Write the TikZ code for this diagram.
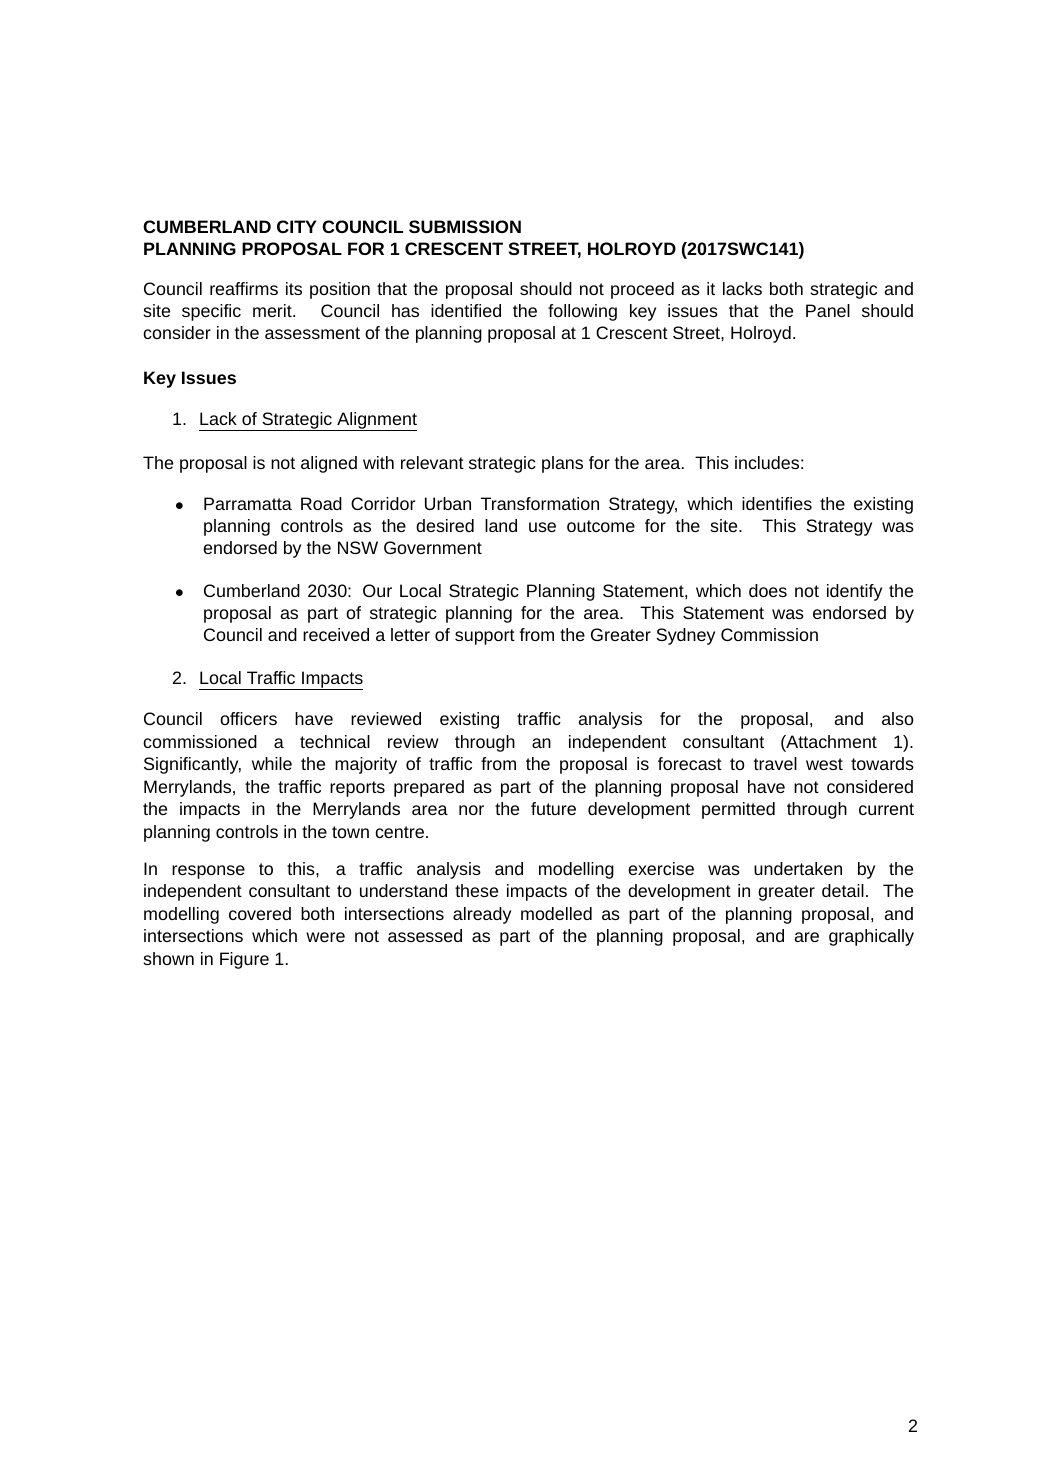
\documentclass[tikz,border=0pt]{standalone}
\usepackage{fontspec}
\setmainfont{Liberation Sans}
\newcounter{ln}
\newcommand{\JL}[4]{\stepcounter{ln}\node[txt] (j\theln) at (#1,-#2) {\makebox[#3pt][s]{#4}};}
\newcommand{\LL}[3]{\stepcounter{ln}\node[txt] (l\theln) at (#1,-#2) {#3};}
\begin{document}
\begin{tikzpicture}[x=1pt,y=1pt,txt/.style={anchor=base west,inner sep=0pt,font=\fontsize{17.9}{20}\selectfont}]
\useasboundingbox[fill=white] (0,0) rectangle (1041,-1484);
\LL{143}{233}{\textbf{CUMBERLAND CITY COUNCIL SUBMISSION}}
\LL{143}{255}{\textbf{PLANNING PROPOSAL FOR 1 CRESCENT STREET, HOLROYD (2017SWC141)}}
\JL{143}{295}{771}{Council reaffirms its position that the proposal should not proceed as it lacks both strategic and}
\JL{143}{317}{771}{site specific merit. Council has identified the following key issues that the Panel should}
\LL{143}{339}{consider in the assessment of the planning proposal at 1 Crescent Street, Holroyd.}
\LL{143}{384}{\textbf{Key Issues}}
\LL{172}{425}{1.\hspace{12pt}\underline{Lack of Strategic Alignment}}
\LL{143}{469}{The proposal is not aligned with relevant strategic plans for the area.\ \ This includes:}
\LL{175}{510}{$\bullet$}
\JL{203}{510}{711}{Parramatta Road Corridor Urban Transformation Strategy, which identifies the existing}
\JL{203}{532}{711}{planning controls as the desired land use outcome for the site.\ \ This Strategy was}
\LL{203}{554}{endorsed by the NSW Government}
\LL{175}{597}{$\bullet$}
\JL{203}{597}{711}{Cumberland 2030: Our Local Strategic Planning Statement, which does not identify the}
\JL{203}{619}{711}{proposal as part of strategic planning for the area.\ \ This Statement was endorsed by}
\LL{203}{641}{Council and received a letter of support from the Greater Sydney Commission}
\LL{172}{684}{2.\hspace{12pt}\underline{Local Traffic Impacts}}
\JL{143}{725}{771}{Council officers have reviewed existing traffic analysis for the proposal, and also}
\JL{143}{748}{771}{commissioned a technical review through an independent consultant (Attachment 1).}
\JL{143}{770}{771}{Significantly, while the majority of traffic from the proposal is forecast to travel west towards}
\JL{143}{793}{771}{Merrylands, the traffic reports prepared as part of the planning proposal have not considered}
\JL{143}{815}{771}{the impacts in the Merrylands area nor the future development permitted through current}
\LL{143}{838}{planning controls in the town centre.}
\JL{143}{875}{771}{In response to this, a traffic analysis and modelling exercise was undertaken by the}
\JL{143}{897}{771}{independent consultant to understand these impacts of the development in greater detail.\ \ The}
\JL{143}{920}{771}{modelling covered both intersections already modelled as part of the planning proposal, and}
\JL{143}{942}{771}{intersections which were not assessed as part of the planning proposal, and are graphically}
\LL{143}{965}{shown in Figure 1.}
\LL{908}{1432}{2}
\end{tikzpicture}
\end{document}
